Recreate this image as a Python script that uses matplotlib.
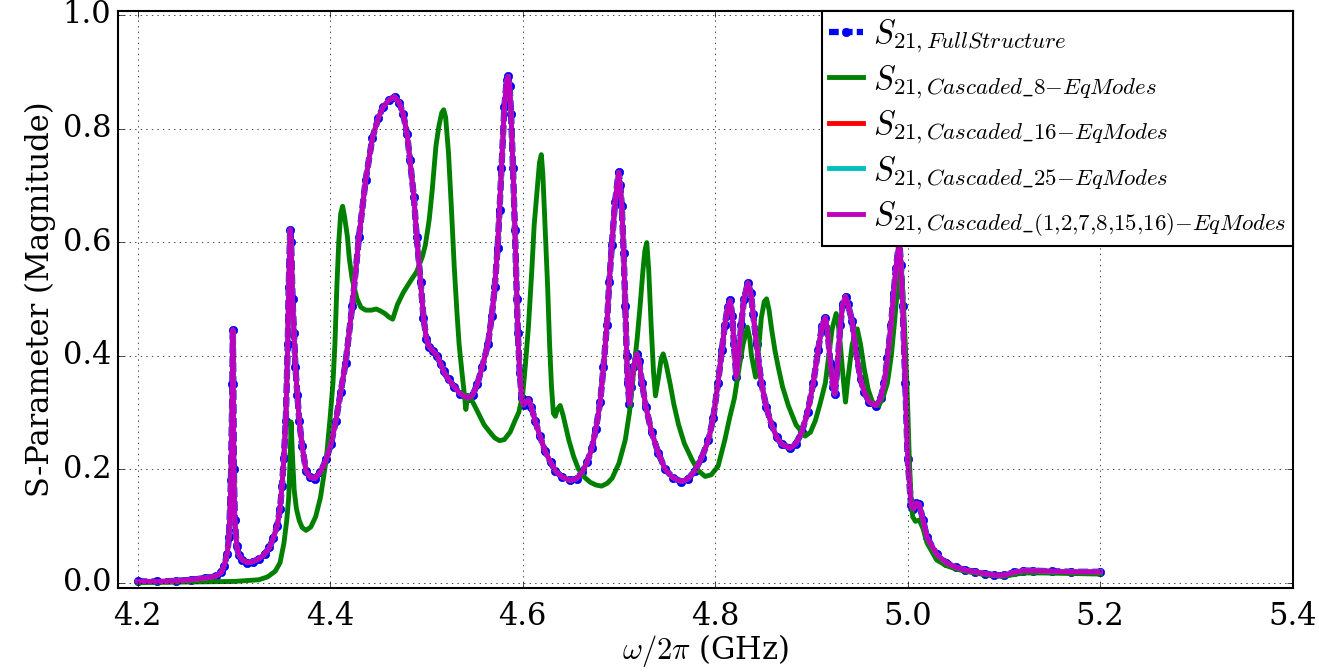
import matplotlib
matplotlib.use("Agg")
import matplotlib.pyplot as plt

# frequency (GHz) / |S21|
freq_full = [4.200, 4.220, 4.240, 4.256, 4.270, 4.281, 4.287, 4.290, 4.293, 4.295,
             4.297, 4.2985, 4.299, 4.2995, 4.300, 4.301, 4.303, 4.305, 4.309, 4.314,
             4.320, 4.326, 4.332, 4.337, 4.341, 4.345, 4.348, 4.350, 4.352, 4.354,
             4.356, 4.357, 4.3585, 4.3595, 4.361, 4.3625, 4.364, 4.366, 4.368, 4.371,
             4.375, 4.379, 4.384, 4.390, 4.396, 4.401, 4.406, 4.411, 4.416, 4.423,
             4.430, 4.437, 4.444, 4.450, 4.455, 4.461, 4.467, 4.472, 4.476, 4.480,
             4.483, 4.487, 4.490, 4.494, 4.497, 4.500, 4.503, 4.507, 4.511, 4.515,
             4.518, 4.523, 4.529, 4.535, 4.543, 4.548, 4.553, 4.558, 4.564, 4.568,
             4.571, 4.574, 4.576, 4.578, 4.581, 4.5835, 4.585, 4.5865, 4.588, 4.590,
             4.592, 4.594, 4.595, 4.597, 4.599, 4.601, 4.603, 4.606, 4.609, 4.613,
             4.618, 4.6235, 4.629, 4.634, 4.641, 4.6495, 4.656, 4.6616, 4.667, 4.672,
             4.676, 4.6806, 4.684, 4.6875, 4.690, 4.6927, 4.696, 4.6997, 4.7015, 4.703,
             4.705, 4.7066, 4.708, 4.709, 4.711, 4.713, 4.715, 4.7187, 4.721, 4.724,
             4.728, 4.734, 4.741, 4.748, 4.756, 4.765, 4.772, 4.779, 4.786, 4.793,
             4.798, 4.803, 4.807, 4.810, 4.813, 4.8157, 4.8178, 4.8195, 4.822, 4.8245,
             4.827, 4.830, 4.834, 4.837, 4.8394, 4.843, 4.848, 4.853, 4.8586, 4.864,
             4.869, 4.8778, 4.884, 4.890, 4.896, 4.902, 4.907, 4.911, 4.9145, 4.917,
             4.9197, 4.9225, 4.9243, 4.927, 4.930, 4.9325, 4.9354, 4.938, 4.9424, 4.946,
             4.951, 4.955, 4.960, 4.967, 4.972, 4.9756, 4.979, 4.9826, 4.9855, 4.9878,
             4.9913, 4.993, 4.9948, 4.9975, 5.000, 5.0035, 5.006, 5.009, 5.012, 5.016,
             5.020, 5.030, 5.040, 5.050, 5.060, 5.070, 5.080, 5.090, 5.100, 5.110,
             5.120, 5.130, 5.150, 5.170, 5.200]
s21_full = [0.002, 0.002, 0.003, 0.005, 0.008, 0.011, 0.018, 0.030, 0.050, 0.080,
            0.180, 0.350, 0.445, 0.350, 0.200, 0.110, 0.065, 0.049, 0.040, 0.035,
            0.037, 0.042, 0.050, 0.062, 0.078, 0.100, 0.130, 0.170, 0.220, 0.285,
            0.420, 0.520, 0.622, 0.600, 0.500, 0.440, 0.380, 0.330, 0.285, 0.240,
            0.197, 0.186, 0.183, 0.195, 0.217, 0.245, 0.285, 0.335, 0.386, 0.487,
            0.609, 0.710, 0.784, 0.818, 0.838, 0.850, 0.856, 0.845, 0.825, 0.790,
            0.744, 0.680, 0.609, 0.530, 0.467, 0.430, 0.415, 0.408, 0.400, 0.385,
            0.372, 0.358, 0.345, 0.333, 0.325, 0.330, 0.350, 0.380, 0.420, 0.470,
            0.520, 0.590, 0.656, 0.730, 0.838, 0.885, 0.892, 0.875, 0.825, 0.730,
            0.622, 0.500, 0.440, 0.370, 0.325, 0.313, 0.318, 0.322, 0.310, 0.285,
            0.258, 0.231, 0.212, 0.197, 0.186, 0.180, 0.183, 0.194, 0.212, 0.237,
            0.270, 0.318, 0.380, 0.453, 0.530, 0.595, 0.670, 0.723, 0.700, 0.663,
            0.580, 0.487, 0.400, 0.352, 0.315, 0.345, 0.379, 0.403, 0.390, 0.352,
            0.310, 0.265, 0.228, 0.200, 0.185, 0.178, 0.183, 0.197, 0.220, 0.251,
            0.290, 0.352, 0.410, 0.453, 0.485, 0.497, 0.470, 0.420, 0.362, 0.400,
            0.453, 0.500, 0.528, 0.510, 0.474, 0.420, 0.352, 0.310, 0.278, 0.256,
            0.244, 0.237, 0.245, 0.265, 0.300, 0.352, 0.410, 0.452, 0.467, 0.440,
            0.386, 0.345, 0.332, 0.380, 0.453, 0.490, 0.504, 0.490, 0.460, 0.410,
            0.359, 0.335, 0.318, 0.312, 0.325, 0.352, 0.395, 0.453, 0.510, 0.555,
            0.602, 0.560, 0.487, 0.352, 0.217, 0.136, 0.130, 0.140, 0.138, 0.110,
            0.080, 0.050, 0.035, 0.027, 0.022, 0.019, 0.016, 0.013, 0.013, 0.018,
            0.021, 0.021, 0.020, 0.019, 0.019]

# the 16, 25 and mixed-mode cascades lie on top of the full structure curve
s21_casc16 = s21_full
s21_casc25 = s21_full
s21_casc_mix = s21_full

freq_casc8 = [4.200, 4.250, 4.300, 4.326, 4.335, 4.343, 4.348, 4.352, 4.355, 4.357,
              4.3585, 4.3595, 4.361, 4.3627, 4.365, 4.368, 4.371, 4.375, 4.380, 4.385,
              4.390, 4.396, 4.400, 4.403, 4.405, 4.407, 4.409, 4.411, 4.413, 4.415,
              4.418, 4.420, 4.423, 4.428, 4.432, 4.437, 4.443, 4.448, 4.453, 4.457,
              4.461, 4.465, 4.470, 4.476, 4.483, 4.490, 4.496, 4.499, 4.503, 4.506,
              4.510, 4.513, 4.516, 4.518, 4.520, 4.523, 4.526, 4.529, 4.532, 4.534,
              4.537, 4.539, 4.541, 4.543, 4.546, 4.550, 4.555, 4.560, 4.566, 4.571,
              4.576, 4.581, 4.587, 4.592, 4.596, 4.600, 4.603, 4.606, 4.6097, 4.612,
              4.615, 4.6175, 4.6194, 4.621, 4.6235, 4.626, 4.628, 4.630, 4.632, 4.634,
              4.636, 4.639, 4.642, 4.648, 4.653, 4.658, 4.664, 4.670, 4.676, 4.682,
              4.688, 4.693, 4.700, 4.7066, 4.711, 4.715, 4.719, 4.722, 4.725, 4.727,
              4.729, 4.731, 4.7335, 4.736, 4.738, 4.741, 4.744, 4.746, 4.749, 4.753,
              4.757, 4.762, 4.768, 4.7758, 4.782, 4.7896, 4.796, 4.803, 4.810, 4.815,
              4.820, 4.825, 4.829, 4.8335, 4.836, 4.8377, 4.842, 4.845, 4.848, 4.851,
              4.8534, 4.856, 4.8586, 4.862, 4.8656, 4.870, 4.876, 4.884, 4.8935, 4.899,
              4.904, 4.909, 4.9145, 4.918, 4.9215, 4.9257, 4.928, 4.930, 4.933, 4.9354,
              4.938, 4.9424, 4.9476, 4.951, 4.9546, 4.959, 4.9634, 4.9703, 4.975, 4.979,
              4.983, 4.986, 4.989, 4.993, 4.995, 4.9975, 5.000, 5.0017, 5.0035, 5.0052,
              5.008, 5.012, 5.016, 5.020, 5.030, 5.040, 5.050, 5.060, 5.070, 5.080,
              5.090, 5.100, 5.110, 5.120, 5.140, 5.170, 5.200]
s21_casc8 = [0.000, 0.001, 0.002, 0.005, 0.010, 0.020, 0.035, 0.069, 0.110, 0.150,
             0.220, 0.283, 0.220, 0.163, 0.130, 0.109, 0.097, 0.092, 0.098, 0.116,
             0.150, 0.217, 0.290, 0.352, 0.420, 0.520, 0.600, 0.650, 0.663, 0.645,
             0.609, 0.570, 0.534, 0.500, 0.485, 0.480, 0.480, 0.482, 0.478, 0.474,
             0.468, 0.464, 0.490, 0.511, 0.530, 0.548, 0.575, 0.595, 0.640, 0.690,
             0.770, 0.804, 0.828, 0.833, 0.820, 0.757, 0.660, 0.555, 0.470, 0.420,
             0.370, 0.339, 0.305, 0.330, 0.325, 0.312, 0.295, 0.278, 0.265, 0.255,
             0.250, 0.252, 0.265, 0.285, 0.300, 0.330, 0.386, 0.450, 0.555, 0.630,
             0.690, 0.740, 0.754, 0.720, 0.622, 0.520, 0.420, 0.345, 0.298, 0.293,
             0.305, 0.312, 0.295, 0.251, 0.222, 0.200, 0.186, 0.177, 0.172, 0.170,
             0.175, 0.184, 0.210, 0.251, 0.300, 0.366, 0.430, 0.487, 0.550, 0.585,
             0.599, 0.550, 0.453, 0.370, 0.329, 0.360, 0.395, 0.403, 0.385, 0.352,
             0.315, 0.278, 0.245, 0.217, 0.198, 0.187, 0.190, 0.205, 0.251, 0.290,
             0.325, 0.380, 0.420, 0.450, 0.430, 0.400, 0.362, 0.410, 0.467, 0.495,
             0.500, 0.480, 0.447, 0.410, 0.379, 0.345, 0.312, 0.278, 0.258, 0.265,
             0.285, 0.315, 0.352, 0.400, 0.447, 0.474, 0.455, 0.420, 0.360, 0.318,
             0.360, 0.420, 0.447, 0.420, 0.379, 0.340, 0.318, 0.312, 0.330, 0.352,
             0.400, 0.453, 0.510, 0.568, 0.510, 0.420, 0.310, 0.217, 0.150, 0.116,
             0.108, 0.110, 0.095, 0.070, 0.040, 0.030, 0.024, 0.020, 0.017, 0.014,
             0.012, 0.011, 0.014, 0.017, 0.017, 0.016, 0.015]

labels = [r"$S_{21,FullStructure}$",
          r"$S_{21,Cascaded\_8{-}EqModes}$",
          r"$S_{21,Cascaded\_16{-}EqModes}$",
          r"$S_{21,Cascaded\_25{-}EqModes}$",
          r"$S_{21,Cascaded\_(1{,}2{,}7{,}8{,}15{,}16){-}EqModes}$"]

plt.style.use("classic")
plt.rcParams["font.family"] = "serif"
plt.rcParams["font.serif"] = ["DejaVu Serif"]
plt.rcParams["mathtext.fontset"] = "cm"

fig = plt.figure(figsize=(13.19, 6.72), dpi=100)
fig.patch.set_facecolor("white")
ax = fig.add_axes([0.0897, 0.1246, 0.8904, 0.859])

ax.plot(freq_full, s21_full, "--o", color="b", lw=4.5, dashes=(7, 3),
        ms=6, mec="b", mew=0.5, label=labels[0])
ax.plot(freq_casc8, s21_casc8, "-", color="g", lw=3.5, label=labels[1])
ax.plot(freq_full, s21_casc16, "-", color="r", lw=3.5, label=labels[2])
ax.plot(freq_full, s21_casc25, "-", color="c", lw=3.5, label=labels[3])
ax.plot(freq_full, s21_casc_mix, "-", color="m", lw=3.5, label=labels[4])

ax.set_xlim(4.18, 5.4)
ax.set_ylim(-0.01, 1.007)
ax.set_xticks([4.2, 4.4, 4.6, 4.8, 5.0, 5.2, 5.4])
ax.set_yticks([0.0, 0.2, 0.4, 0.6, 0.8, 1.0])
ax.tick_params(labelsize=22)
ax.tick_params(axis="x", pad=9)
ax.tick_params(axis="y", pad=5)
for s in ax.spines.values():
    s.set_linewidth(1.5)
ax.grid(True)

ax.set_xlabel(r"$\omega/2\pi$ (GHz)", fontsize=22, labelpad=0)
ax.set_ylabel("S-Parameter (Magnitude)", fontsize=22)

leg = ax.legend(loc="upper right", borderaxespad=0, numpoints=1, fontsize=23.5,
                handlelength=1.05, handletextpad=0.3, borderpad=0.2,
                labelspacing=0.25, fancybox=False, framealpha=1)
leg.get_frame().set_edgecolor("k")
leg.get_frame().set_linewidth(1.5)

fig.savefig("out.png", dpi=100)
